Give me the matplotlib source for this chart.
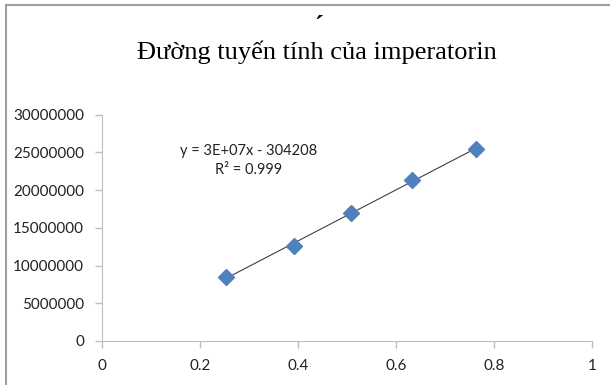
import matplotlib
matplotlib.use("Agg")
import matplotlib.pyplot as plt
from matplotlib.lines import Line2D
import numpy as np

# dữ liệu
conc = [0.254, 0.392, 0.508, 0.633, 0.763]
area = [8520000, 12650000, 16980000, 21300000, 25500000]
yticks = [0, 5000000, 10000000, 15000000, 20000000, 25000000, 30000000]
xticks = [0, 0.2, 0.4, 0.6, 0.8, 1]
title = "Đường tuyến tính của imperatorin"
eq_text = "y = 3E+07x - 304208\nR² = 0.999"

fig = plt.figure(figsize=(6.1, 3.85), dpi=100)
ax = fig.add_axes([0.1672, 0.1143, 0.8033, 0.5877])

# đường xu hướng
k, b = np.polyfit(conc, area, 1)
xs = np.array([conc[0], conc[-1]])
ax.plot(xs, k * xs + b, color="#404040", linewidth=0.8, zorder=2)
ax.plot(conc, area, linestyle="none", marker="D", markersize=8,
        color="#4F81BD", markeredgecolor="#4F81BD", zorder=3)

ax.set_xlim(0, 1)
ax.set_ylim(0, 30000000)
ax.set_xticks(xticks)
ax.set_xticklabels([f"{v:g}" for v in xticks])
ax.set_yticks(yticks)
ax.set_yticklabels([str(v) for v in yticks])

for s in ["top", "right"]:
    ax.spines[s].set_visible(False)
for s in ["left", "bottom"]:
    ax.spines[s].set_color("#BFBFBF")
ax.tick_params(colors="#BFBFBF", length=5, width=1, labelcolor="#222222",
               labelsize=11, pad=8)
for lab in ax.get_xticklabels() + ax.get_yticklabels():
    lab.set_family("Lato")

ax.text(0.3, 23900000, eq_text, ha="center", va="center", fontsize=10.5,
        family="Lato", color="#222222", linespacing=1.5)

fig.text(0.52, 0.865, title, ha="center", va="center", fontsize=19,
         family="Liberation Serif")
fig.text(0.522, 0.93, "´", ha="center", va="center", fontsize=19,
         fontweight="bold", family="Liberation Serif")

# viền khung bên trái và phía trên
fig.add_artist(Line2D([6 / 610, 6 / 610], [0, 1 - 5 / 385], color="#A0A0A0", linewidth=1.5))
fig.add_artist(Line2D([6 / 610, 1], [1 - 5 / 385, 1 - 5 / 385], color="#A0A0A0", linewidth=1.5))

plt.savefig("out.png", dpi=100)
